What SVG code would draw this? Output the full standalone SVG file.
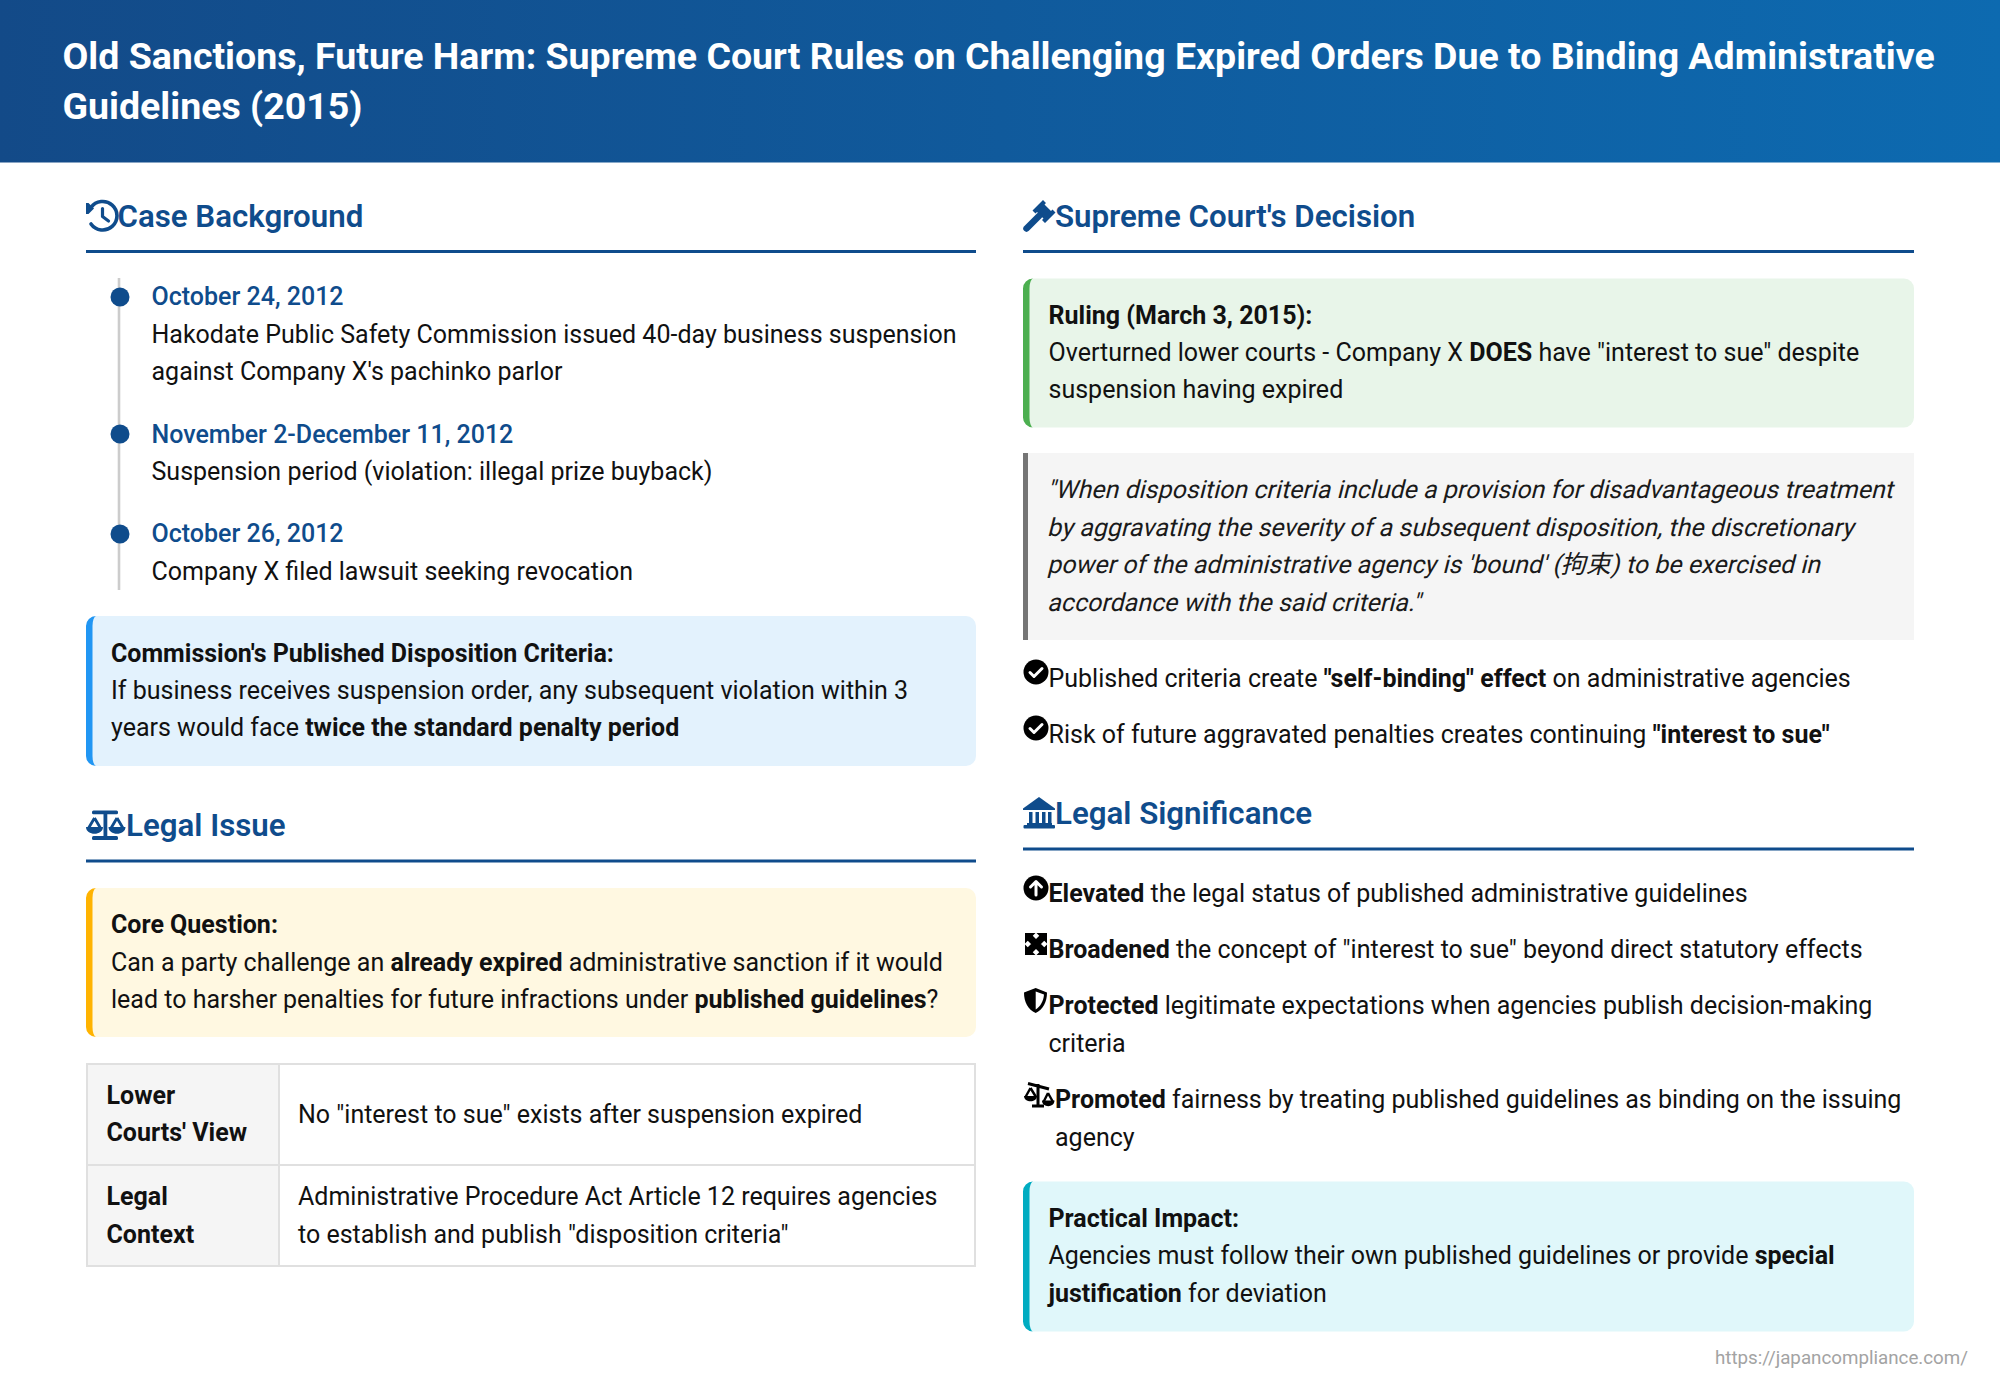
<svg xmlns="http://www.w3.org/2000/svg" width="2000" height="1388" viewBox="0 0 2000 1388">
<style>
text{font-family:Roboto,"Noto Sans CJK JP",sans-serif;font-size:25px;fill:#111}
.title{font-size:37.5px;font-weight:700;fill:#fff}
.h{font-size:31.25px;font-weight:600;fill:#0f4c8c}
.d{font-weight:500;fill:#0f4c8c}
.b{font-weight:700}
.q{fill:#1a1a1a}
.foot{font-size:18.75px;fill:#a3a3a3}
.rule{fill:#0f4c8c}
.ic{fill:#0f4c8c}
.k{fill:#000}
</style>
<defs>
<linearGradient id="hg" gradientUnits="userSpaceOnUse" x1="0" y1="0" x2="2000" y2="0"><stop offset="0" stop-color="#134a88"/><stop offset="1" stop-color="#0d6ab0"/></linearGradient>
<g id="check"><circle cx="0" cy="0" r="12.5" class="k"/><path d="M-6 0.5L-2 4.5L6-3.5" fill="none" stroke="#fff" stroke-width="3" stroke-linecap="round" stroke-linejoin="round"/></g>
</defs>
<rect width="2000" height="1388" fill="#fff"/>
<g id="header"><rect width="2000" height="162.5" fill="url(#hg)"/>
<text class="title" x="62.500" y="69">Old Sanctions, Future Harm: Supreme Court Rules on Challenging Expired Orders Due to Binding Administrative</text>
<text class="title" x="62.500" y="119">Guidelines (2015)</text></g>

<g id="case-background">
<path class="ic" d="M86 203l2.500 0 5.500 5.500 -5.500 5.500H86z"/>
<path d="M91 207.500A14.300 14.300 0 1 1 91 224" fill="none" stroke="#0f4c8c" stroke-width="3.600" stroke-linecap="round"/>
<path d="M102.500 208.500V216.500L108.500 221" fill="none" stroke="#0f4c8c" stroke-width="3.200" stroke-linecap="round" stroke-linejoin="round"/>
<text class="h" x="117.500" y="227">Case Background</text>
<rect class="rule" x="86" y="250" width="890" height="3"/>
<rect x="117.700" y="278" width="2.600" height="312" fill="#ccc"/>
<circle class="ic" cx="120" cy="297" r="9.500"/><circle class="ic" cx="120" cy="434" r="9.500"/><circle class="ic" cx="120" cy="534" r="9.500"/>
<text class="d" x="151.500" y="305">October 24, 2012</text>
<text x="151.500" y="342.500">Hakodate Public Safety Commission issued 40-day business suspension</text>
<text x="151.500" y="380">against Company X's pachinko parlor</text>
<text class="d" x="151.500" y="443">November 2-December 11, 2012</text>
<text x="151.500" y="480">Suspension period (violation: illegal prize buyback)</text>
<text class="d" x="151.500" y="542">October 26, 2012</text>
<text x="151.500" y="580">Company X filed lawsuit seeking revocation</text>
</g>
<g id="criteria-box">
<rect x="86" y="616" width="890" height="150" rx="10" fill="#e3f2fd"/>
<path d="M96 616A10 10 0 0 0 86 626V756A10 10 0 0 0 96 766A4 10 0 0 1 92.500 756V626A4 10 0 0 1 96 616Z" fill="#2196f3"/>
<text class="b" x="111" y="661.500">Commission's Published Disposition Criteria:</text>
<text x="111" y="699">If business receives suspension order, any subsequent violation within 3</text>
<text x="111" y="736">years would face <tspan class="b">twice the standard penalty period</tspan></text>
</g>
<g id="legal-issue">
<rect class="ic" x="92" y="810.500" width="26" height="3.800" rx="1.500"/><rect class="ic" x="92" y="836" width="26" height="4" rx="1.500"/><rect class="ic" x="103.500" y="811" width="3.800" height="27"/>
<path d="M94.500 818L88 829M94.500 818L101 829M117 818L110.500 829M117 818L123.500 829" stroke="#0f4c8c" stroke-width="2.800" fill="none"/>
<path class="ic" d="M86 827H103C103 836 86 836 86 827ZM108.500 827H125.500C125.500 836 108.500 836 108.500 827Z"/>
<text class="h" x="126" y="836">Legal Issue</text>
<rect class="rule" x="86" y="859.500" width="890" height="3"/>
</g>
<g id="core-question">
<rect x="86" y="888" width="890" height="149" rx="10" fill="#fff8e1"/>
<path d="M96 888A10 10 0 0 0 86 898V1027A10 10 0 0 0 96 1037A4 10 0 0 1 92.500 1027V898A4 10 0 0 1 96 888Z" fill="#ffb300"/>
<text class="b" x="111" y="933">Core Question:</text>
<text x="111" y="970.500">Can a party challenge an <tspan class="b">already expired</tspan> administrative sanction if it would</text>
<text x="111" y="1008">lead to harsher penalties for future infractions under <tspan class="b">published guidelines</tspan>?</text>
</g>
<g id="table">
<rect x="87" y="1064" width="192" height="202" fill="#f5f5f5"/>
<rect x="87" y="1064" width="888" height="202" fill="none" stroke="#e0e0e0" stroke-width="2"/>
<path d="M87 1165H975M279 1064V1266" stroke="#e0e0e0" stroke-width="2" fill="none"/>
<text class="b" x="106.500" y="1103.500">Lower</text><text class="b" x="106.500" y="1141">Courts' View</text>
<text x="298" y="1122.500">No "interest to sue" exists after suspension expired</text>
<text class="b" x="106.500" y="1205">Legal</text><text class="b" x="106.500" y="1243">Context</text>
<text x="298" y="1205">Administrative Procedure Act Article 12 requires agencies</text>
<text x="298" y="1243">to establish and publish "disposition criteria"</text>
</g>

<g id="decision">
<path class="ic" d="M1043 200L1046 203L1044.500 204.500L1051 211L1052.500 209.500L1055.500 212.500L1045 223L1042 220L1043.500 218.500L1037 212L1035.500 213.500L1032.500 210.500Z"/>
<path d="M1039 216L1026.500 228.500" stroke="#0f4c8c" stroke-width="6.500" stroke-linecap="round"/>
<text class="h" x="1055" y="227">Supreme Court's Decision</text>
<rect class="rule" x="1023" y="250" width="891" height="3"/>
</g>
<g id="ruling-box">
<rect x="1023" y="278.500" width="891" height="149" rx="10" fill="#e8f5e9"/>
<path d="M1033 278.500A10 10 0 0 0 1023 288.500V417.500A10 10 0 0 0 1033 427.500A4 10 0 0 1 1029.500 417.500V288.500A4 10 0 0 1 1033 278.500Z" fill="#4caf50"/>
<text class="b" x="1048.500" y="323.500">Ruling (March 3, 2015):</text>
<text x="1048.500" y="361">Overturned lower courts - Company X <tspan class="b">DOES</tspan> have "interest to sue" despite</text>
<text x="1048.500" y="398">suspension having expired</text>
</g>
<g id="quote-box">
<rect x="1023" y="453" width="891" height="187" fill="#f5f5f5"/>
<rect x="1023" y="453" width="5" height="187" fill="#757575"/>
<text class="q" transform="translate(1047 498) skewX(-14)">"When disposition criteria include a provision for disadvantageous treatment</text>
<text class="q" transform="translate(1047 535.500) skewX(-14)">by aggravating the severity of a subsequent disposition, the discretionary</text>
<text class="q" transform="translate(1047 573) skewX(-14)">power of the administrative agency is 'bound' (拘束) to be exercised in</text>
<text class="q" transform="translate(1047 610.500) skewX(-14)">accordance with the said criteria."</text>
</g>
<g id="point-1"><use href="#check" x="1036" y="672"/><text x="1048.500" y="686.500">Published criteria create <tspan class="b">"self-binding" effect</tspan> on administrative agencies</text></g>
<g id="point-2"><use href="#check" x="1036" y="728"/><text x="1048.500" y="742.500">Risk of future aggravated penalties creates continuing <tspan class="b">"interest to sue"</tspan></text></g>
<g id="legal-significance">
<path class="ic" d="M1039 797L1055 808.500V810H1023V808.500Z"/>
<path class="ic" d="M1029 812h3.500v12h-3.500zM1035.500 812h3.500v12h-3.500zM1042 812h3.500v12h-3.500zM1048 812h3.500v12h-3.500z"/>
<rect class="ic" x="1027" y="823" width="25" height="2.500"/><rect class="ic" x="1023.500" y="825" width="31.500" height="3.500" rx="1"/>
<text class="h" x="1055" y="824">Legal Significance</text>
<rect class="rule" x="1023" y="847.500" width="891" height="3"/>
</g>
<g id="sig-1"><circle cx="1036" cy="888" r="12.500" class="k"/><path d="M1036 895V881.500M1030.500 887L1036 881.500L1041.500 887" fill="none" stroke="#fff" stroke-width="3" stroke-linecap="round" stroke-linejoin="round"/>
<text x="1048.500" y="901.500"><tspan class="b">Elevated</tspan> the legal status of published administrative guidelines</text></g>
<g id="sig-2"><path class="k" d="M1025 933h10.500l-10.500 10.500zM1047 933v10.500l-10.500-10.500zM1025 955v-10.500l10.500 10.500zM1047 955h-10.500l10.500-10.500z"/><path d="M1028 936L1044 952M1044 936L1028 952" stroke="#000" stroke-width="7"/>
<text x="1048.500" y="957.500"><tspan class="b">Broadened</tspan> the concept of "interest to sue" beyond direct statutory effects</text></g>
<g id="sig-3"><path class="k" d="M1035.700 988L1047 992.500C1047 1002 1043 1009.500 1035.700 1013C1028 1009.500 1024 1002 1024 992.500ZM1035.700 991.500V1009.500C1040.500 1006.500 1043.500 1001 1044 994.500Z" fill-rule="evenodd"/>
<text x="1048.500" y="1013.500"><tspan class="b">Protected</tspan> legitimate expectations when agencies publish decision-making</text>
<text x="1048.500" y="1051.500">criteria</text></g>
<g id="sig-4"><path d="M1028 1083.500L1049 1089M1038 1084V1105M1032 1106H1044" stroke="#000" stroke-width="3" fill="none"/>
<path d="M1030.500 1088L1025.500 1097M1030.500 1088L1036 1097M1048 1093L1043.500 1102M1048 1093L1053 1102" stroke="#000" stroke-width="2.400" fill="none"/>
<path class="k" d="M1024 1096H1037C1037 1103 1024 1103 1024 1096ZM1042 1100.500H1054.500C1054.500 1108 1042 1108 1042 1100.500Z"/>
<text x="1055" y="1107.500"><tspan class="b">Promoted</tspan> fairness by treating published guidelines as binding on the issuing</text>
<text x="1055" y="1145.500">agency</text></g>
<g id="impact-box">
<rect x="1023" y="1181.500" width="891" height="150" rx="10" fill="#e0f7fa"/>
<path d="M1033 1181.500A10 10 0 0 0 1023 1191.500V1321.500A10 10 0 0 0 1033 1331.500A4 10 0 0 1 1029.500 1321.500V1191.500A4 10 0 0 1 1033 1181.500Z" fill="#00acc1"/>
<text class="b" x="1048.500" y="1226.500">Practical Impact:</text>
<text x="1048.500" y="1264">Agencies must follow their own published guidelines or provide <tspan class="b">special</tspan></text>
<text x="1048.500" y="1301.500"><tspan class="b">justification</tspan> for deviation</text>
</g>
<text class="foot" x="1968" y="1364" text-anchor="end">https://japancompliance.com/</text>
</svg>
